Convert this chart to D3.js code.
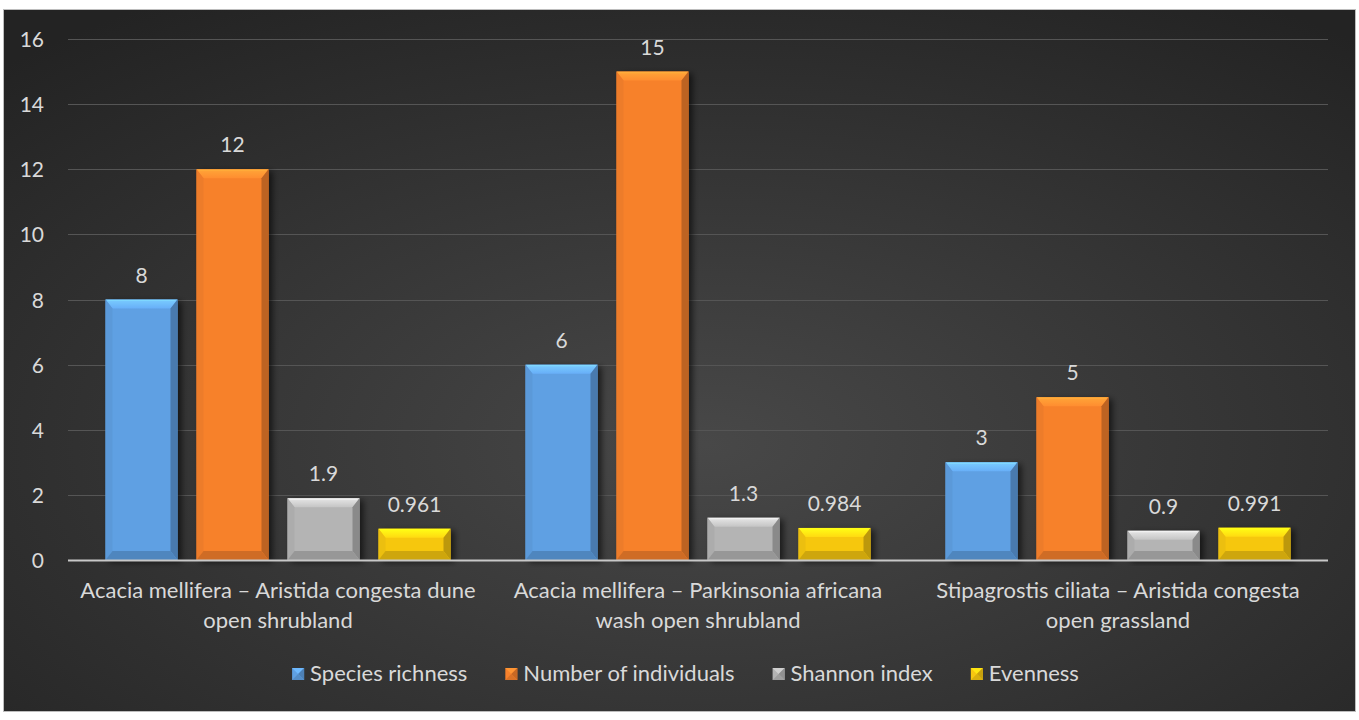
<!DOCTYPE html>
<html>
<head>
<meta charset="utf-8">
<script src="https://cdn.jsdelivr.net/npm/d3@7"></script>
<style>
  html, body { margin: 0; padding: 0; background: #ffffff; }
  svg { display: block; }
  text { font-family: Lato, "Open Sans", sans-serif; fill: #d9d9d9; }
</style>
</head>
<body>
<svg id="chart" width="1359" height="720"></svg>
<script>
// Vegetation community diversity metrics
const categories = [
  "Acacia mellifera – Aristida congesta dune open shrubland",
  "Acacia mellifera – Parkinsonia africana wash open shrubland",
  "Stipagrostis ciliata – Aristida congesta open grassland"
];
const categoryLines = [
  ["Acacia mellifera – Aristida congesta dune", "open shrubland"],
  ["Acacia mellifera – Parkinsonia africana", "wash open shrubland"],
  ["Stipagrostis ciliata – Aristida congesta", "open grassland"]
];
const seriesNames = ["Species richness", "Number of individuals", "Shannon index", "Evenness"];
const speciesRichness = [8, 6, 3];
const numberOfIndividuals = [12, 15, 5];
const shannonIndex = [1.9, 1.3, 0.9];
const evenness = [0.961, 0.984, 0.991];
const valueLabels = [
  ["8", "6", "3"],
  ["12", "15", "5"],
  ["1.9", "1.3", "0.9"],
  ["0.961", "0.984", "0.991"]
];
const yTicks = [0, 2, 4, 6, 8, 10, 12, 14, 16];
const seriesColors = ["#5fa0e3", "#f7812c", "#b4b4b4", "#f6c710"];

const seriesValues = [speciesRichness, numberOfIndividuals, shannonIndex, evenness];

const svg = d3.select("#chart");

// card background with soft radial shading
const defs = svg.append("defs");
const rg = defs.append("radialGradient").attr("id", "bg")
  .attr("cx", "52%").attr("cy", "62%").attr("r", "75%");
rg.append("stop").attr("offset", "0%").attr("stop-color", "#484848");
rg.append("stop").attr("offset", "100%").attr("stop-color", "#232323");

const shadow = defs.append("filter").attr("id", "shadow")
  .attr("x", "-20%").attr("y", "-20%").attr("width", "150%").attr("height", "140%");
shadow.append("feGaussianBlur").attr("in", "SourceAlpha").attr("stdDeviation", 3).attr("result", "b");
shadow.append("feOffset").attr("in", "b").attr("dx", 4).attr("dy", 2).attr("result", "o");
shadow.append("feComponentTransfer").attr("in", "o").attr("result", "s")
  .append("feFuncA").attr("type", "linear").attr("slope", 0.6);
const merge = shadow.append("feMerge");
merge.append("feMergeNode").attr("in", "s");
merge.append("feMergeNode").attr("in", "SourceGraphic");

// vertical shading for bar faces
function faceGradient(id, c) {
  const g = defs.append("linearGradient").attr("id", id).attr("x1", 0).attr("y1", 0).attr("x2", 0).attr("y2", 1);
  g.append("stop").attr("offset", "0%").attr("stop-color", d3.color(c).brighter(0.7).formatHex());
  g.append("stop").attr("offset", "100%").attr("stop-color", d3.color(c).brighter(0.25).formatHex());
}
seriesColors.forEach((c, i) => faceGradient("top" + i, c));

svg.append("rect").attr("x", 3.5).attr("y", 9.5).attr("width", 1352).attr("height", 702)
  .attr("fill", "url(#bg)").attr("stroke", "#bdbdbd").attr("stroke-width", 1);

const plotL = 68, plotR = 1328, plotT = 39, plotB = 560;

const y = d3.scaleLinear().domain([0, 16]).range([plotB, plotT]);
const x0 = d3.scaleBand().domain(d3.range(categories.length)).range([plotL, plotR]).padding(0);
const x1 = d3.scaleBand().domain(d3.range(seriesNames.length))
  .range([37.5, x0.bandwidth() - 37.5]).paddingInner(0.209).paddingOuter(0);

// gridlines
svg.append("g").selectAll("line").data(yTicks.filter(d => d > 0)).join("line")
  .attr("x1", plotL).attr("x2", plotR)
  .attr("y1", d => Math.round(y(d)) + 0.5).attr("y2", d => Math.round(y(d)) + 0.5)
  .attr("stroke", "#555555").attr("stroke-width", 1.2);

// y axis labels
const yAxis = d3.axisLeft(y).tickValues(yTicks).tickSize(0).tickPadding(0);
const yg = svg.append("g").attr("transform", `translate(44,0)`).call(yAxis);
yg.select(".domain").remove();
yg.selectAll("text").attr("font-size", 21).attr("font-family", "Lato, sans-serif")
  .attr("fill", "#d9d9d9").attr("dy", "0.36em");

// bevelled bars
function shade(c, k) { return d3.color(c).darker(k).formatHex(); }
function tint(c, k) { return d3.color(c).brighter(k).formatHex(); }

const bars = [];
seriesValues.forEach((vals, s) => {
  vals.forEach((v, c) => bars.push({ s, c, v }));
});

const barG = svg.append("g");
const labelG = svg.append("g");
bars.forEach(d => {
  const bx = x0(d.c) + x1(d.s), bw = x1.bandwidth();
  const top = y(d.v), bot = y(0), bh = bot - top;
  const col = seriesColors[d.s];
  const bev = Math.min(9, bh / 2.2), side = Math.min(7, bw / 6);
  const g = barG.append("g");
  g.append("rect").attr("x", bx).attr("y", top).attr("width", bw).attr("height", bh)
    .attr("fill", col).attr("filter", "url(#shadow)");
  // top face
  g.append("polygon").attr("points",
    [[bx, top], [bx + bw, top], [bx + bw - side, top + bev], [bx + side, top + bev]].join(" "))
    .attr("fill", `url(#top${d.s})`);
  g.append("line").attr("x1", bx + 2).attr("x2", bx + bw - 2).attr("y1", top + 1).attr("y2", top + 1)
    .attr("stroke", tint(col, 0.9)).attr("stroke-width", 1.2).attr("opacity", 0.7);
  // left side
  g.append("polygon").attr("points",
    [[bx, top], [bx + side, top + bev], [bx + side, bot - bev], [bx, bot]].join(" "))
    .attr("fill", shade(col, 0.12));
  // right side
  g.append("polygon").attr("points",
    [[bx + bw, top], [bx + bw - side, top + bev], [bx + bw - side, bot - bev], [bx + bw, bot]].join(" "))
    .attr("fill", shade(col, 0.75));
  // bottom face
  g.append("polygon").attr("points",
    [[bx, bot], [bx + side, bot - bev], [bx + bw - side, bot - bev], [bx + bw, bot]].join(" "))
    .attr("fill", shade(col, 0.5));
  // value label
  labelG.append("text").attr("x", bx + bw / 2).attr("y", top - 17)
    .attr("text-anchor", "middle").attr("font-size", 21)
    .text(valueLabels[d.s][d.c]);
});

// baseline
svg.append("line").attr("x1", plotL).attr("x2", plotR).attr("y1", y(0) + 0.5).attr("y2", y(0) + 0.5)
  .attr("stroke", "#c8c8c8").attr("stroke-width", 2);

// category labels
categoryLines.forEach((lines, c) => {
  const cx = x0(c) + x0.bandwidth() / 2;
  lines.forEach((ln, i) => {
    svg.append("text").attr("x", cx).attr("y", 598 + i * 30)
      .attr("text-anchor", "middle").attr("font-size", 22).text(ln);
  });
});

// legend
const lg = svg.append("g");
const items = seriesNames.map((n, i) => {
  const g = lg.append("g");
  const t = g.append("text").attr("x", 19).attr("y", 681).attr("font-size", 22).text(n);
  return { g, w: 19 + t.node().getComputedTextLength(), i };
});
const gap = 37;
const total = d3.sum(items, d => d.w) + gap * (items.length - 1);
let lx = 685 - total / 2;
items.forEach(it => {
  const col = seriesColors[it.i];
  const ix = 1, iy = 668, s = 12;
  it.g.attr("transform", `translate(${lx},0)`);
  it.g.insert("rect", "text").attr("x", ix).attr("y", iy).attr("width", s).attr("height", s).attr("fill", col);
  it.g.insert("polygon", "text").attr("points",
    [[ix, iy], [ix + s, iy], [ix + s / 2, iy + s / 2]].join(" ")).attr("fill", tint(col, 0.4));
  it.g.insert("polygon", "text").attr("points",
    [[ix + s, iy], [ix + s, iy + s], [ix + s / 2, iy + s / 2]].join(" ")).attr("fill", shade(col, 0.6));
  it.g.insert("polygon", "text").attr("points",
    [[ix, iy + s], [ix + s, iy + s], [ix + s / 2, iy + s / 2]].join(" ")).attr("fill", shade(col, 0.35));
  lx += it.w + gap;
});
</script>
</body>
</html>
